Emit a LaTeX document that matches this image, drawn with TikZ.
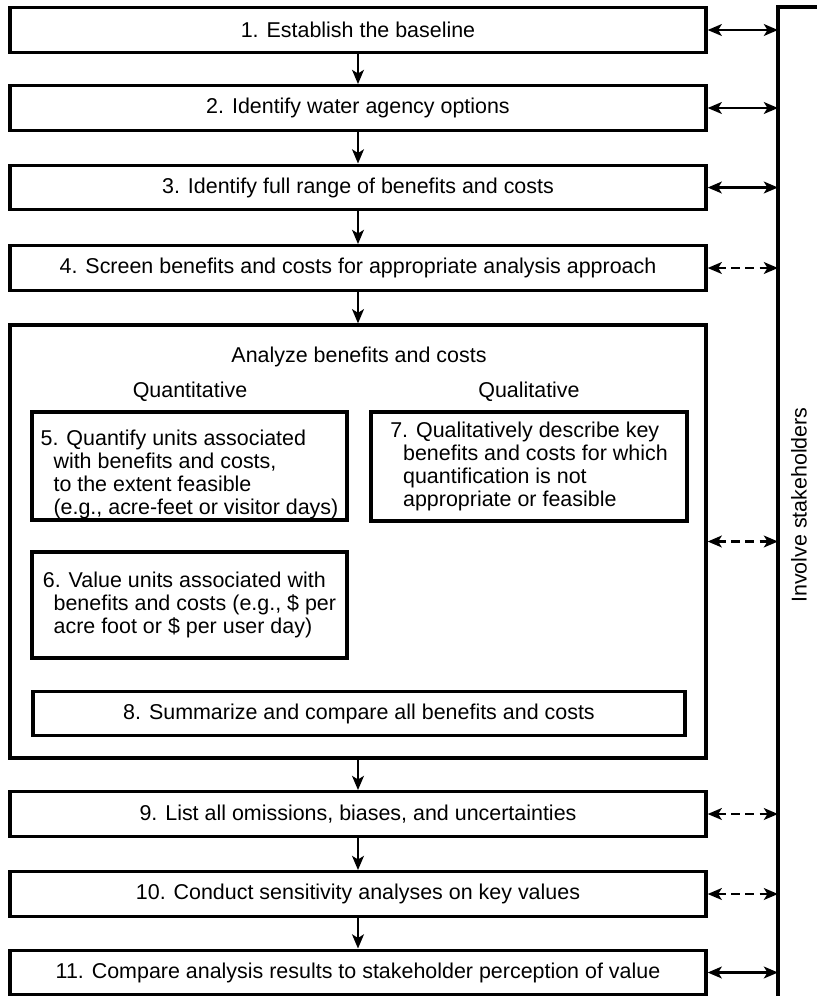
\documentclass[tikz,border=0pt]{standalone}
\usepackage{fontspec}
\setmainfont{Liberation Sans}
\usetikzlibrary{arrows.meta}
\tikzset{
  txt/.style={font=\fontsize{18.3pt}{19.8pt}\selectfont, inner sep=0pt},
  stepbox/.style={txt, draw, line width=2.8pt, minimum width=20.88cm, minimum height=1.34cm},
  subbox/.style={txt, draw, line width=2.8pt, align=left},
  flow/.style={line width=2.4pt, -{Stealth[length=12pt, width=10pt, inset=3pt]}},
  link/.style={line width=2.4pt, {Stealth[length=12pt, width=10pt, inset=3pt]}-{Stealth[length=12pt, width=10pt, inset=3pt]}},
  weaklink/.style={link, dash pattern=on 7pt off 5pt}
}
\begin{document}
\begin{tikzpicture}[x=0.03cm, y=-0.03cm]
\useasboundingbox (0,0) rectangle (817,996);
% main steps
\node[stepbox] (s1) at (358,30) {1. Establish the baseline};
\node[stepbox] (s2) at (358,108) {2. Identify water agency options};
\node[stepbox] (s3) at (358,187.5) {3. Identify full range of benefits and costs};
\node[stepbox] (s4) at (358,268) {4. Screen benefits and costs for appropriate analysis approach};
\node[stepbox, minimum height=12.99cm] (analyze) at (358,541.5) {};
\node[stepbox] (s9) at (358,814) {9. List all omissions, biases, and uncertainties};
\node[stepbox] (s10) at (358,894) {10. Conduct sensitivity analyses on key values};
\node[stepbox] (s11) at (358,972.5) {11. Compare analysis results to stakeholder perception of value};
% inside the analysis box
\node[txt] (title) at (359,357) {Analyze benefits and costs};
\node[txt] (quant) at (190,392) {Quantitative};
\node[txt] (qual) at (529,392) {Qualitative};
\node[subbox, minimum width=9.45cm, minimum height=3.24cm] (s5) at (189.5,466) {\rule{0pt}{1.5em}5. Quantify units associated\\
  \hspace*{0.6em}with benefits and costs,\\
  \hspace*{0.6em}to the extent feasible\\
  \hspace*{0.6em}(e.g., acre-feet or visitor days)};
\node[subbox, minimum width=9.48cm, minimum height=3.27cm] (s7) at (529,466.5) {7. Qualitatively describe key\\
  \hspace*{0.6em}benefits and costs for which\\
  \hspace*{0.6em}quantification is not\\
  \hspace*{0.6em}appropriate or feasible};
\node[subbox, minimum width=9.45cm, minimum height=3.18cm] (s6) at (189.5,605) {6. Value units associated with\\
  \hspace*{0.5em}benefits and costs (e.g., \$ per\\
  \hspace*{0.5em}acre foot or \$ per user day)};
\node[stepbox, minimum width=19.56cm] (s8) at (359,713.5) {8. Summarize and compare all benefits and costs};
% stakeholder bar
\coordinate (bartop) at (778,7);
\coordinate (barbot) at (778,996);
\coordinate (barend) at (817,7);
\draw[line width=2.8pt] (barend) -- (bartop) -- (barbot);
\node[txt, rotate=90] (involve) at (799,505) {Involve stakeholders};
% flow
\draw[flow] (s1) -- (s2);
\draw[flow] (s2) -- (s3);
\draw[flow] (s3) -- (s4);
\draw[flow] (s4) -- (analyze);
\draw[flow] (analyze) -- (s9);
\draw[flow] (s9) -- (s10);
\draw[flow] (s10) -- (s11);
% links to stakeholders
\draw[link] (s1.east) -- (s1.east -| bartop);
\draw[link] (s2.east) -- (s2.east -| bartop);
\draw[link] (s3.east) -- (s3.east -| bartop);
\draw[weaklink] (s4.east) -- (s4.east -| bartop);
\draw[weaklink] (analyze.east) -- (analyze.east -| bartop);
\draw[weaklink] (s9.east) -- (s9.east -| bartop);
\draw[weaklink] (s10.east) -- (s10.east -| bartop);
\draw[link] (s11.east) -- (s11.east -| bartop);
\end{tikzpicture}
\end{document}
